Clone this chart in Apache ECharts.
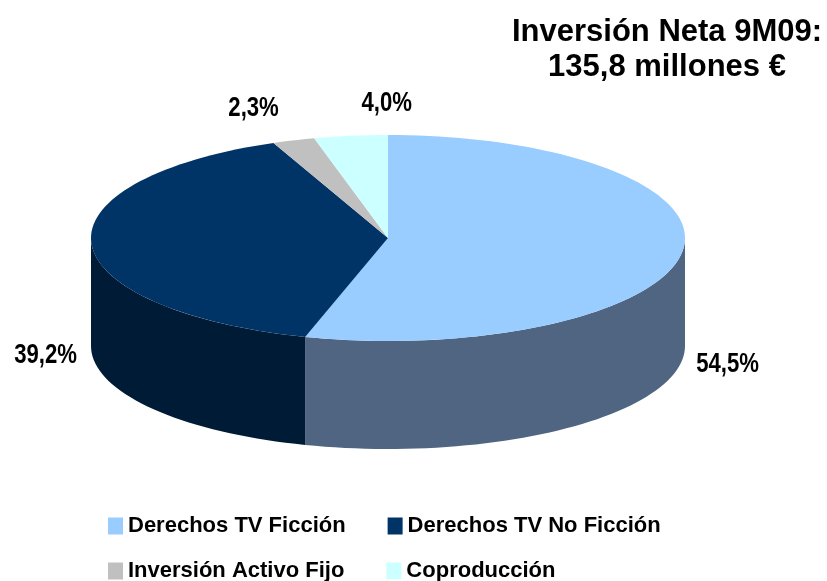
<!DOCTYPE html>
<html>
<head>
<meta charset="utf-8">
<script src="https://cdn.jsdelivr.net/npm/echarts@6/dist/echarts.min.js"></script>
<style>
  html, body { margin: 0; background: #fff; }
  #chartPie3d { width: 827px; height: 581px; }
</style>
</head>
<body>
<div id="chartPie3d"></div>
<script>
// datos del gráfico
const categories = ['Derechos TV Ficción', 'Derechos TV No Ficción', 'Inversión Activo Fijo', 'Coproducción'];
const shares = [54.5, 39.2, 2.3, 4.0];
const shareLabels = ['54,5%', '39,2%', '2,3%', '4,0%'];

// estilos
const topColors = ['#99CCFF', '#003366', '#C0C0C0', '#CCFFFF'];
const sideColors = ['#4F6582', '#001B35', '#8C8C8C', '#93B8B8'];
const baseFont = '"Liberation Sans", Arial, sans-serif';

// geometría de la tarta (elipse + grosor)
const CX = 388, CY = 238, RX = 297, RY = 103, DEPTH = 108;
const backNudge = [0, 0, -40, 36];

const total = shares.reduce((a, b) => a + b, 0);
const starts = [];
shares.reduce((acc, v, i) => { starts[i] = acc; return acc + v; }, 0);

const rad = (d) => d * Math.PI / 180;
const pt = (a, dy) => [CX + RX * Math.cos(rad(a)), CY + RY * Math.sin(rad(a)) + (dy || 0)];

function arc(a0, a1, dy) {
  const n = Math.max(2, Math.ceil((a1 - a0) / 2));
  const pts = [];
  for (let k = 0; k <= n; k++) pts.push(pt(a0 + (a1 - a0) * k / n, dy));
  return pts;
}

function renderSlice(idx) {
  return function (params, api) {
    const a0 = -90 + api.value(0) / total * 360;
    const a1 = a0 + api.value(1) / total * 360;
    const children = [];

    // cara lateral visible (mitad delantera)
    const s = Math.max(a0, 0), e = Math.min(a1, 180);
    if (e > s) {
      const top = arc(s, e, 0);
      const bottom = arc(s, e, DEPTH).reverse();
      children.push({
        type: 'polygon',
        z2: 1,
        shape: { points: top.concat(bottom) },
        style: { fill: sideColors[idx] }
      });
    }

    // cara superior
    children.push({
      type: 'polygon',
      z2: 5,
      shape: { points: [[CX, CY]].concat(arc(a0, a1, 0)) },
      style: { fill: topColors[idx] }
    });

    // etiqueta (texto estrecho, tipo Arial Narrow)
    const mid = (a0 + a1) / 2;
    const c = Math.cos(rad(mid));
    const front = Math.sin(rad(mid)) > 0 || Math.abs(c) > 0.9;
    let lx, ly;
    if (front) {
      lx = CX + (RX + 46) * c;
      ly = CY + RY * Math.sin(rad(mid)) + DEPTH + 4;
    } else {
      const p = pt(mid, 0);
      lx = p[0] + backNudge[idx];
      ly = p[1] - 32;
    }
    children.push({
      type: 'text',
      z2: 10,
      x: lx,
      y: ly,
      scaleX: 0.82,
      style: {
        x: 0, y: 0,
        text: shareLabels[idx],
        align: 'center',
        verticalAlign: 'middle',
        fill: '#000',
        font: 'bold 27px ' + baseFont
      }
    });

    return { type: 'group', children: children };
  };
}

const myChart = echarts.init(document.getElementById('chartPie3d'));

const legendText = {
  color: '#000',
  fontSize: 22,
  fontWeight: 'bold',
  fontFamily: baseFont
};

myChart.setOption({
  animation: false,
  title: {
    text: 'Inversión Neta 9M09:\n135,8 millones €',
    left: 667,
    top: 15,
    padding: 0,
    textAlign: 'center',
    textStyle: {
      color: '#000',
      fontSize: 31,
      fontWeight: 'bold',
      fontFamily: baseFont,
      lineHeight: 35
    }
  },
  legend: [
    {
      data: categories.slice(0, 2),
      left: 103,
      top: 510,
      icon: 'rect',
      itemWidth: 15,
      itemHeight: 17,
      itemGap: 42,
      selectedMode: false,
      textStyle: legendText
    },
    {
      data: categories.slice(2, 4),
      left: 103,
      top: 555,
      icon: 'rect',
      itemWidth: 15,
      itemHeight: 17,
      itemGap: 42,
      selectedMode: false,
      textStyle: legendText
    }
  ],
  series: categories.map((name, i) => ({
    type: 'custom',
    name: name,
    coordinateSystem: 'none',
    silent: true,
    itemStyle: { color: topColors[i] },
    data: [[starts[i], shares[i]]],
    renderItem: renderSlice(i)
  }))
});
</script>
</body>
</html>
